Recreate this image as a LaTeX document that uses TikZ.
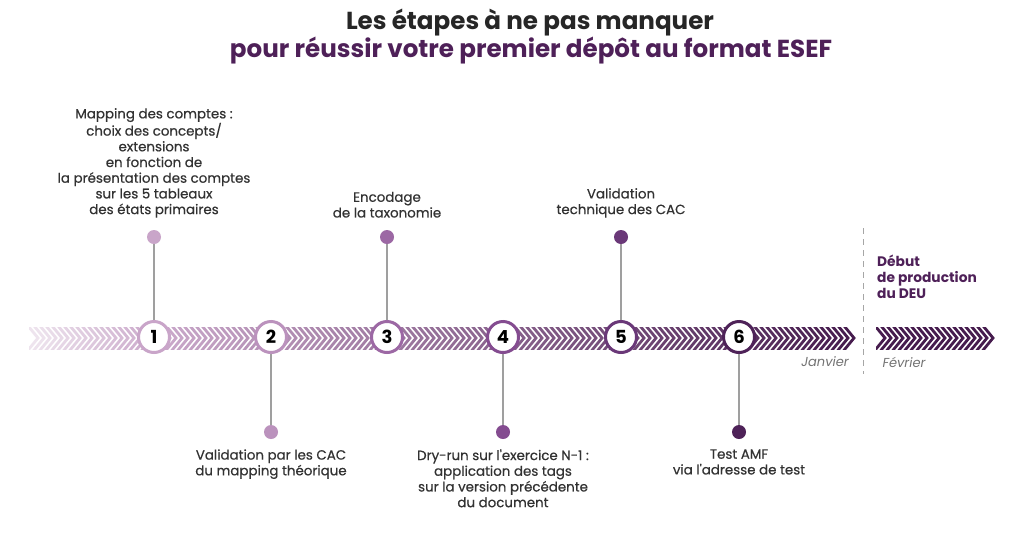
\documentclass[tikz,border=0pt]{standalone}
\usepackage{fontspec}
\setmainfont{Poppins}
\newfontfamily\legfont{Poppins}[FakeBold=0.5]
\usepackage{xcolor}
\usetikzlibrary{positioning, calc}
\definecolor{titlegray}{RGB}{38,38,38}
\definecolor{textgray}{RGB}{50,50,50}
\definecolor{esefpurple}{RGB}{78,32,88}
\definecolor{chevpale}{RGB}{238,228,238}
\definecolor{chevmid}{RGB}{202,168,202}
\definecolor{chevdark}{RGB}{70,28,78}
\definecolor{etape1}{RGB}{201,165,201}
\definecolor{etape2}{RGB}{187,146,189}
\definecolor{etape3}{RGB}{156,104,164}
\definecolor{etape4}{RGB}{132,76,144}
\definecolor{etape5}{RGB}{106,56,120}
\definecolor{etape6}{RGB}{78,34,88}

\tikzset{
  etape/.style={circle, line width=3pt, fill=white, minimum size=31pt,
                inner sep=0pt, font=\fontsize{18}{18}\selectfont\bfseries,
                text=black},
  pastille/.style={circle, minimum size=14pt, inner sep=0pt},
  lien/.style={draw=gray!75, line width=1.3pt},
  legende/.style={align=center, inner sep=0pt, text=textgray,
                  font=\legfont\fontsize{13.4}{15.7}\selectfont}
}

\begin{document}
\begin{tikzpicture}[x=1pt, y=-1pt]
  \useasboundingbox[fill=white] (0,0) rectangle (1024,544);

  % Titre
  \node[font=\fontsize{24.6}{24.6}\selectfont\bfseries, text=titlegray]
    (titre) at (530,23) {Les étapes à ne pas manquer};
  \node[font=\fontsize{24.6}{24.6}\selectfont\bfseries, text=esefpurple]
    (soustitre) at (531,51) {pour réussir votre premier dépôt au format ESEF};

  % Bande de chevrons --- du pâle au violet foncé
  \begin{scope}
    \clip (29,327) rectangle (860,349);
    \foreach \x in {29,35,...,845} {
      \pgfmathtruncatemacro{\t}{\x<154 ? (\x-29)/125*100 : (\x-154)/691*100}
      \ifnum\x<154 \def\cc{chevmid!\t!chevpale}\else\def\cc{chevdark!\t!chevmid}\fi
      \draw[line width=2.8pt, color=\cc]
        (\x-3,323.33) -- (\x+9,338) -- (\x-3,352.67);
    }
  \end{scope}
  % Bande de février
  \begin{scope}
    \clip (876,327) rectangle (1000,349);
    \foreach \x in {876,882,...,984} {
      \draw[line width=2.8pt, chevdark]
        (\x-3,323.33) -- (\x+9,338) -- (\x-3,352.67);
    }
  \end{scope}

  % Séparation des mois
  \draw[gray!70, line width=1pt, dash pattern=on 6pt off 5pt] (863,228) -- (863,374);
  \node[font=\fontsize{13}{13}\selectfont\itshape, text=gray!90!black] (jan) at (825,362) {Janvier};
  \node[font=\fontsize{13}{13}\selectfont\itshape, text=gray!90!black] (fev) at (904,362) {Février};
  \node[anchor=north west, align=left, inner sep=0pt, text=esefpurple,
        font=\fontsize{13.8}{16}\selectfont\bfseries]
    (deu) at (877,255) {Début\\de production\\du DEU};

  % Étapes 1 à 6
  \node[etape, draw=etape1] (t1) at (154,337) {1};
  \node[etape, draw=etape2] (t2) at (271,337) {2};
  \node[etape, draw=etape3] (t3) at (387,337) {3};
  \node[etape, draw=etape4] (t4) at (503,337) {4};
  \node[etape, draw=etape5] (t5) at (621,337) {5};
  \node[etape, draw=etape6] (t6) at (739,337) {6};

  % Pastilles au-dessus (1,3,5) et au-dessous (2,4,6)
  \node[pastille, fill=etape1] (d1) at (154,237) {};
  \node[pastille, fill=etape2] (d2) at (271,432) {};
  \node[pastille, fill=etape3] (d3) at (387,237) {};
  \node[pastille, fill=etape4] (d4) at (503,432) {};
  \node[pastille, fill=etape5] (d5) at (621,237) {};
  \node[pastille, fill=etape6] (d6) at (739,432) {};
  \foreach \k in {1,...,6} {
    \draw[lien] (t\k) -- (d\k);
  }

  % Légendes
  \node[legende, above=12pt of d1] (l1)
    {Mapping des comptes :\\choix des concepts/\\extensions\\en fonction de\\
     la présentation des comptes\\sur les 5 tableaux\\des états primaires};
  \node[legende, below=10pt of d2] (l2)
    {Validation par les CAC\\du mapping théorique};
  \node[legende, above=12pt of d3] (l3)
    {Encodage\\de la taxonomie};
  \node[legende, below=10pt of d4] (l4)
    {Dry-run sur l'exercice N-1 :\\application des tags\\
     sur la version précédente\\du document};
  \node[legende, above=12pt of d5] (l5)
    {Validation\\technique des CAC};
  \node[legende, below=10pt of d6] (l6)
    {Test AMF\\via l'adresse de test};
\end{tikzpicture}
\end{document}
